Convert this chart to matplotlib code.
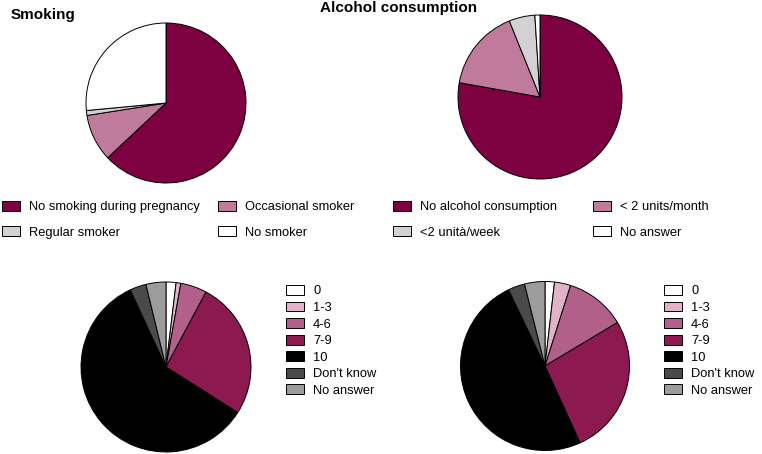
import matplotlib.pyplot as plt

plt.rcParams['font.family'] = ['Liberation Sans', 'DejaVu Sans']

smoke_labels = ["No smoking during pregnancy", "Regular smoker", "Occasional smoker", "No smoker"]
smoke_order = [0, 2, 1, 3]  # pie order: no smoking, occasional, regular, no smoker
smoke_values = [63.0, 1.0, 9.5, 26.5]
smoke_colors = ["#7d0040", "#d2d2d2", "#c07a9c", "#ffffff"]

alc_labels = ["No alcohol consumption", "<2 unità/week", "< 2 units/month", "No answer"]
alc_order = [0, 2, 1, 3]
alc_values = [77.8, 5.1, 16.1, 1.0]
alc_colors = ["#7d0040", "#d2d2d2", "#c07a9c", "#ffffff"]

score_labels = ["0", "1-3", "4-6", "7-9", "10", "Don't know", "No answer"]
score_colors = ["#ffffff", "#e2b2c8", "#b2608a", "#8c1a50", "#000000", "#4a4a4a", "#9c9c9c"]
score_left = [1.9, 0.9, 5.0, 26.2, 59.1, 3.1, 3.8]
score_right = [1.8, 3.1, 11.5, 26.8, 49.7, 3.2, 3.9]

W, H = 762, 454
fig = plt.figure(figsize=(W / 100, H / 100), dpi=100)
FS = 9.3


def pie_ax(cx, cy, r, values, colors):
    pad = 1.03
    ax = fig.add_axes([(cx - r * pad) / W, 1 - (cy + r * pad) / H, 2 * r * pad / W, 2 * r * pad / H])
    wedges, _ = ax.pie(values, colors=colors, startangle=90, counterclock=False,
                       wedgeprops=dict(edgecolor="black", linewidth=0.7))
    ax.set_xlim(-pad, pad)
    ax.set_ylim(-pad, pad)
    ax.set_aspect("equal")
    return wedges


w1 = pie_ax(166, 103, 80, [smoke_values[i] for i in smoke_order], [smoke_colors[i] for i in smoke_order])
w2 = pie_ax(540, 97, 82, [alc_values[i] for i in alc_order], [alc_colors[i] for i in alc_order])
w3 = pie_ax(166, 367, 85, score_left, score_colors)
w4 = pie_ax(545, 366, 84.5, score_right, score_colors)

fig.text(11 / W, 1 - 15 / H, "Smoking", fontsize=11, fontweight="bold", va="center")
fig.text(320 / W, 1 - 8 / H, "Alcohol consumption", fontsize=11, fontweight="bold", va="center")


def top_legend(wedges, order, labels, x, y, colsp):
    handles = [wedges[order.index(i)] for i in range(len(labels))]
    fig.legend(handles, labels, loc="upper left", bbox_to_anchor=(x / W, 1 - y / H), ncol=2,
               frameon=False, fontsize=FS, handlelength=1.4, handleheight=0.8,
               handletextpad=0.7, columnspacing=colsp, labelspacing=0.98,
               borderpad=0, borderaxespad=0)


top_legend(w1, smoke_order, smoke_labels, 2, 201, 1.38)
top_legend(w2, alc_order, alc_labels, 393, 201, 2.74)

for wedges, x in [(w3, 286), (w4, 664)]:
    fig.legend(wedges, score_labels, loc="upper left", bbox_to_anchor=(x / W, 1 - 285 / H),
               frameon=False, fontsize=FS, handlelength=1.4, handleheight=0.8,
               handletextpad=0.7, labelspacing=0.32, borderpad=0, borderaxespad=0)

fig.savefig("out.png", dpi=100)
